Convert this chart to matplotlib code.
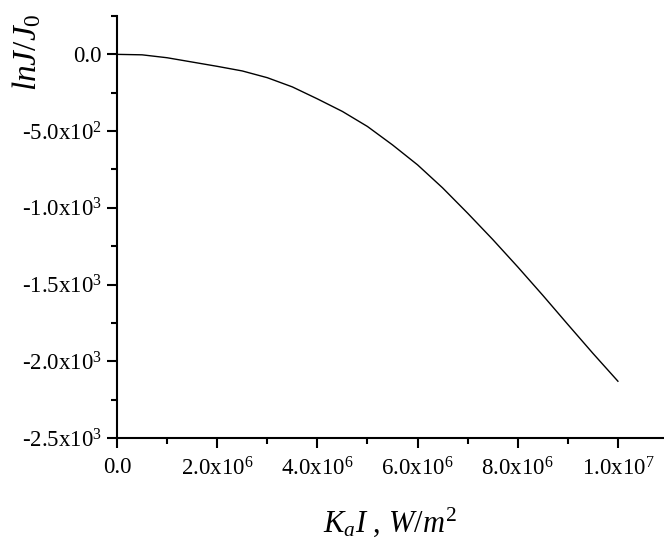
import matplotlib
matplotlib.use("Agg")
import matplotlib.pyplot as plt
from matplotlib.ticker import MultipleLocator, FixedLocator

# Data
x_vals = [0.0, 0.5e6, 1.0e6, 1.5e6, 2.0e6, 2.5e6, 3.0e6, 3.5e6, 4.0e6, 4.5e6,
          5.0e6, 5.5e6, 6.0e6, 6.5e6, 7.0e6, 7.5e6, 8.0e6, 8.5e6, 9.0e6, 9.5e6, 1.0e7]
y_vals = [0, -3, -22, -50, -78, -108, -152, -212, -290, -372,
          -470, -590, -720, -870, -1035, -1206, -1385, -1570, -1760, -1948, -2130]

x_ticks = [0.0, 2e6, 4e6, 6e6, 8e6, 1e7]
x_tick_labels = ["0.0", "2.0x10$^{6}$", "4.0x10$^{6}$", "6.0x10$^{6}$",
                 "8.0x10$^{6}$", "1.0x10$^{7}$"]
y_ticks = [0, -500, -1000, -1500, -2000, -2500]
y_tick_labels = ["0.0", "-5.0x10$^{2}$", "-1.0x10$^{3}$", "-1.5x10$^{3}$",
                 "-2.0x10$^{3}$", "-2.5x10$^{3}$"]

plt.rcParams['font.family'] = ['Liberation Serif', 'DejaVu Serif']
plt.rcParams['mathtext.fontset'] = 'custom'
plt.rcParams['mathtext.rm'] = 'Liberation Serif'
plt.rcParams['mathtext.it'] = 'Liberation Serif:italic'
plt.rcParams['mathtext.bf'] = 'Liberation Serif:bold'

fig = plt.figure(figsize=(6.64, 5.40), dpi=100)
ax = fig.add_axes([117/664, 1-438/540, (663-117)/664, (438-16)/540])

ax.plot(x_vals, y_vals, color='black', lw=1.0)

ax.set_xlim(0, 1.09e7)
ax.set_ylim(-2500, 250)

for s in ['top', 'right']:
    ax.spines[s].set_visible(False)
for s in ['left', 'bottom']:
    ax.spines[s].set_linewidth(1.5)

ax.xaxis.set_major_locator(FixedLocator(x_ticks))
ax.set_xticklabels(x_tick_labels)
ax.xaxis.set_minor_locator(MultipleLocator(1e6))
ax.yaxis.set_major_locator(FixedLocator(y_ticks))
ax.set_yticklabels(y_tick_labels)
ax.yaxis.set_minor_locator(MultipleLocator(250))

ax.tick_params(which='major', direction='out', length=7, width=1.5, labelsize=16.5, pad=4)
ax.tick_params(axis='x', which='major', pad=7)
ax.tick_params(which='minor', direction='out', length=4, width=1.5)

ax.set_xlabel(r"$K_{a}I$ , $W/m^{2}$", fontsize=22)
ax.xaxis.set_label_coords(0.5, -0.16)
ax.set_ylabel(r"$lnJ/J_{0}$", fontsize=24)
ax.yaxis.set_label_coords(-0.135, 0.915)

fig.savefig("out.png", dpi=100)
